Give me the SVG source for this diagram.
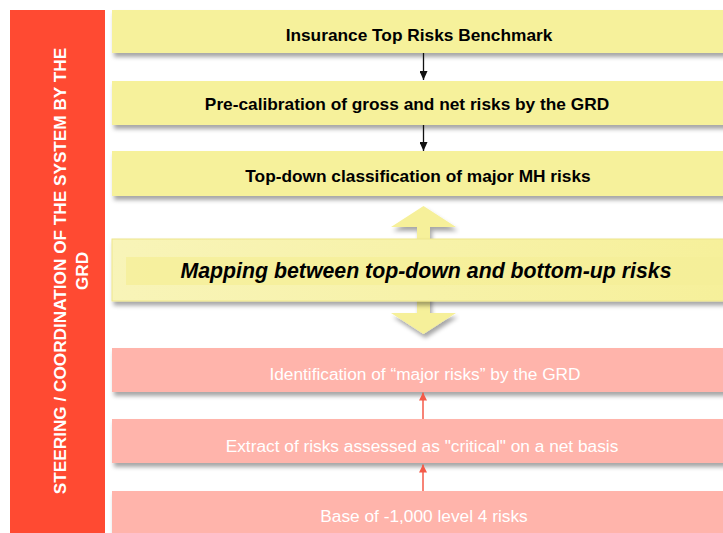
<svg xmlns="http://www.w3.org/2000/svg" width="723" height="533" viewBox="0 0 723 533">
<defs>
<filter id="sh" x="-5%" y="-20%" width="110%" height="160%">
<feDropShadow dx="2" dy="4" stdDeviation="2" flood-color="#000" flood-opacity="0.35"/>
</filter>
<linearGradient id="mapg" x1="0" y1="0" x2="1" y2="0">
<stop offset="0" stop-color="#F8F4B8"/>
<stop offset="1" stop-color="#F6F09A"/>
</linearGradient>
<marker id="ab" viewBox="0 0 9 8" refX="9" refY="4" markerWidth="9" markerHeight="8" markerUnits="userSpaceOnUse" orient="auto">
<path d="M0,0 L9,4 L0,8 Z" fill="#111"/>
</marker>
<marker id="ar" viewBox="0 0 8 8" refX="8" refY="4" markerWidth="8" markerHeight="8" markerUnits="userSpaceOnUse" orient="auto">
<path d="M0,0 L8,4 L0,8 Z" fill="#F45A48"/>
</marker>
</defs>
<style>
.y{fill:#F6F19B;filter:url(#sh)}
.p{fill:#FFB4AB;filter:url(#sh)}
.tb{font-family:"Liberation Sans",Arial,sans-serif;font-weight:bold;font-size:17.3px;fill:#000;text-anchor:middle}
.tp{font-family:"Liberation Sans",Arial,sans-serif;font-size:17.3px;fill:#fff;text-anchor:middle}
.side{font-family:"Liberation Sans",Arial,sans-serif;font-weight:bold;font-size:17.2px;fill:#fff;text-anchor:middle}
</style>
<rect width="723" height="533" fill="#fff"/>
<g id="steering">
<rect x="10" y="10" width="95" height="530" fill="#FF4A32"/>
<text class="side" transform="translate(66,271) rotate(-90)">STEERING / COORDINATION OF THE SYSTEM BY THE</text>
<text class="side" transform="translate(88,271) rotate(-90)">GRD</text>
</g>
<g id="benchmark">
<rect class="y" x="112" y="10" width="620" height="43"/>
<text class="tb" x="419" y="41">Insurance Top Risks Benchmark</text>
</g>
<g id="precalibration">
<rect class="y" x="112" y="81" width="620" height="44"/>
<text class="tb" x="407" y="110">Pre-calibration of gross and net risks by the GRD</text>
</g>
<g id="topdown">
<rect class="y" x="112" y="151" width="620" height="45"/>
<text class="tb" x="418" y="182">Top-down classification of major MH risks</text>
</g>
<g id="mapping">
<path d="M423.5,206 L456,227 L430,227 L430,245 L417,245 L417,227 L391,227 Z" fill="#F6F09A" filter="url(#sh)"/>
<path d="M417,295 L430,295 L430,313 L456,313 L423.5,334 L391,313 L417,313 Z" fill="#F6F09A" filter="url(#sh)"/>
<rect x="112" y="239" width="620" height="62" fill="url(#mapg)" stroke="#EEE68C" stroke-width="1" filter="url(#sh)"/>
<rect x="126" y="257" width="606" height="28" fill="#F5EF98" opacity="0.8"/>
<text x="426" y="278" style="font-family:'Liberation Sans',Arial,sans-serif;font-weight:bold;font-style:italic;font-size:21.3px;fill:#000;text-anchor:middle">Mapping between top-down and bottom-up risks</text>
</g>
<g id="identification">
<rect class="p" x="112" y="348" width="620" height="44"/>
<text class="tp" x="425" y="380">Identification of “major risks” by the GRD</text>
</g>
<g id="extract">
<rect class="p" x="112" y="419" width="620" height="44"/>
<text class="tp" x="422" y="452">Extract of risks assessed as "critical" on a net basis</text>
</g>
<g id="base">
<rect class="p" x="112" y="491" width="620" height="50"/>
<text class="tp" x="424" y="522">Base of -1,000 level 4 risks</text>
</g>
<g id="connectors">
<line x1="423.5" y1="53" x2="423.5" y2="80" stroke="#111" stroke-width="1.3" marker-end="url(#ab)"/>
<line x1="423.5" y1="125" x2="423.5" y2="151" stroke="#111" stroke-width="1.3" marker-end="url(#ab)"/>
<line x1="423" y1="419" x2="423" y2="392.5" stroke="#F45A48" stroke-width="1.5" marker-end="url(#ar)"/>
<line x1="423" y1="491" x2="423" y2="464.5" stroke="#F45A48" stroke-width="1.5" marker-end="url(#ar)"/>
</g>
</svg>
